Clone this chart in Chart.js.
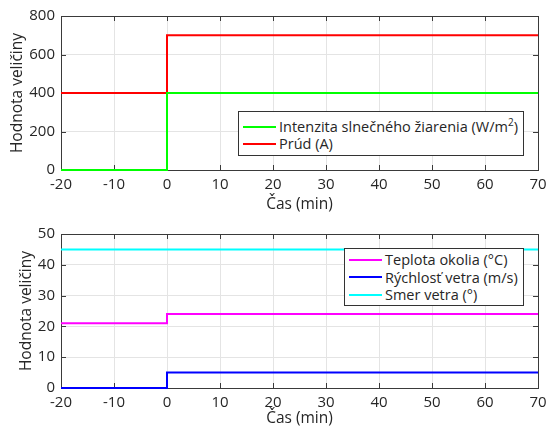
<!DOCTYPE html>
<html>
<head>
<meta charset="utf-8">
<script src="https://cdn.jsdelivr.net/npm/chart.js@4"></script>
<style>
  body { margin: 0; background: #fff; }
  .wrap { position: relative; width: 547px; height: 214px; }
  .legend { position: absolute; background: #fff; border: 1px solid #333; font-family: "Open Sans", sans-serif; font-size: 14.5px; color: #262626; box-sizing: border-box; }
  .legend .row { display: flex; align-items: center; white-space: nowrap; }
  .legend .sw { flex-shrink: 0; width: 33px; height: 2px; margin: 0 3px 0 4px; }
  .legend sup { font-size: 10px; line-height: 0; }
  #topLegend { padding-top: 6px; }
  #topLegend .row { height: 17px; }
  #bottomLegend { padding-top: 2px; }
  #bottomLegend .row { height: 17.5px; }
</style>
</head>
<body>
<div class="wrap">
  <canvas id="topChart" width="547" height="214"></canvas>
  <div class="legend" id="topLegend" style="left:238px; top:111px; width:286px; height:45px;"></div>
</div>
<div class="wrap">
  <canvas id="bottomChart" width="547" height="214"></canvas>
  <div class="legend" id="bottomLegend" style="left:344px; top:34px; width:180px; height:58px;"></div>
</div>
<script>
// time axis (min) - values change at t = 0
const time = [-20, 0, 70];

// top panel
const irradiance = [0, 400, 400];   // W/m2
const current = [400, 700, 700];    // A

// bottom panel
const ambientTemp = [21, 24, 24];   // °C
const windSpeed = [0, 5, 5];        // m/s
const windDir = [45, 45, 45];       // °

const xTicks = [-20, -10, 0, 10, 20, 30, 40, 50, 60, 70];
const topYTicks = [0, 200, 400, 600, 800];
const bottomYTicks = [0, 10, 20, 30, 40, 50];

const topLabels = ["Intenzita slnečného žiarenia (W/m<sup>2</sup>)", "Prúd (A)"];
const bottomLabels = ["Teplota okolia (°C)", "Rýchlosť vetra (m/s)", "Smer vetra (°)"];

const FONT = "'Open Sans', sans-serif";
const TXT = "#262626";

function pts(arr) {
  return time.map((t, i) => ({ x: t, y: arr[i] }));
}

// box around the plot area + MATLAB-like inward tick marks (under the lines)
const framePlugin = {
  id: "frame",
  beforeDatasetsDraw(chart) {
    const { ctx, chartArea: a, scales } = chart;
    ctx.save();
    ctx.strokeStyle = "#3a3a3a";
    ctx.lineWidth = 1;
    ctx.beginPath();
    scales.x.ticks.forEach(t => {
      const px = Math.round(scales.x.getPixelForValue(t.value)) + 0.5;
      ctx.moveTo(px, a.bottom); ctx.lineTo(px, a.bottom - 5);
      ctx.moveTo(px, a.top); ctx.lineTo(px, a.top + 5);
    });
    scales.y.ticks.forEach(t => {
      const py = Math.round(scales.y.getPixelForValue(t.value)) + 0.5;
      ctx.moveTo(a.left, py); ctx.lineTo(a.left + 5, py);
      ctx.moveTo(a.right, py); ctx.lineTo(a.right - 5, py);
    });
    ctx.stroke();
    ctx.strokeRect(Math.round(a.left) + 0.5, Math.round(a.top) + 0.5, Math.round(a.right - a.left), Math.round(a.bottom - a.top));
    ctx.restore();
  }
};

function makeChart(id, datasets, yTicks, padLeft, yWidth, padTop, xHeight) {
  return new Chart(document.getElementById(id), {
    type: "line",
    data: { datasets: datasets },
    options: {
      responsive: false,
      animation: false,
      layout: { padding: { left: padLeft, right: 9, top: padTop, bottom: 0 } },
      plugins: { legend: { display: false }, tooltip: { enabled: false } },
      elements: { point: { radius: 0 }, line: { borderWidth: 2 } },
      clip: 2,
      scales: {
        x: {
          type: "linear",
          min: xTicks[0],
          max: xTicks[xTicks.length - 1],
          afterBuildTicks: s => { s.ticks = xTicks.map(v => ({ value: v })); },
          ticks: { color: TXT, font: { family: FONT, size: 15 }, padding: 6, maxRotation: 0 },
          grid: { color: "#e4e4e4", drawTicks: false },
          border: { display: false },
          title: { display: true, text: "Čas (min)", color: TXT, font: { family: FONT, size: 15.5 }, padding: { top: 0, bottom: 0 } },
          afterFit: s => { s.height = xHeight; s.paddingLeft = 0; s.paddingRight = 0; }
        },
        y: {
          min: yTicks[0],
          max: yTicks[yTicks.length - 1],
          afterBuildTicks: s => { s.ticks = yTicks.map(v => ({ value: v })); },
          ticks: { color: TXT, font: { family: FONT, size: 15 }, padding: 6 },
          grid: { color: "#e4e4e4", drawTicks: false },
          border: { display: false },
          title: { display: true, text: "Hodnota veličiny", color: TXT, font: { family: FONT, size: 15.5 }, padding: { top: 0, bottom: 0 } },
          afterFit: s => { s.width = yWidth; s.paddingTop = 0; s.paddingBottom = 0; }
        }
      }
    },
    plugins: [framePlugin]
  });
}

const topColors = ["#00ff00", "#ff0000"];
const bottomColors = ["#ff00ff", "#0000ff", "#00ffff"];

makeChart("topChart", [
  { label: "Intenzita slnečného žiarenia (W/m²)", data: pts(irradiance), borderColor: topColors[0], stepped: "before" },
  { label: "Prúd (A)", data: pts(current), borderColor: topColors[1], stepped: "before" }
], topYTicks, 8, 53, 16, 44);

makeChart("bottomChart", [
  { label: bottomLabels[0], data: pts(ambientTemp), borderColor: bottomColors[0], stepped: "before" },
  { label: bottomLabels[1], data: pts(windSpeed), borderColor: bottomColors[1], stepped: "before" },
  { label: bottomLabels[2], data: pts(windDir), borderColor: bottomColors[2], stepped: "before" }
], bottomYTicks, 17, 44, 20, 40);

function fillLegend(id, labels, colors) {
  const el = document.getElementById(id);
  el.innerHTML = labels.map((l, i) =>
    '<div class="row"><span class="sw" style="background:' + colors[i] + '"></span><span>' + l + '</span></div>'
  ).join("");
}
fillLegend("topLegend", topLabels, topColors);
fillLegend("bottomLegend", bottomLabels, bottomColors);
</script>
</body>
</html>
